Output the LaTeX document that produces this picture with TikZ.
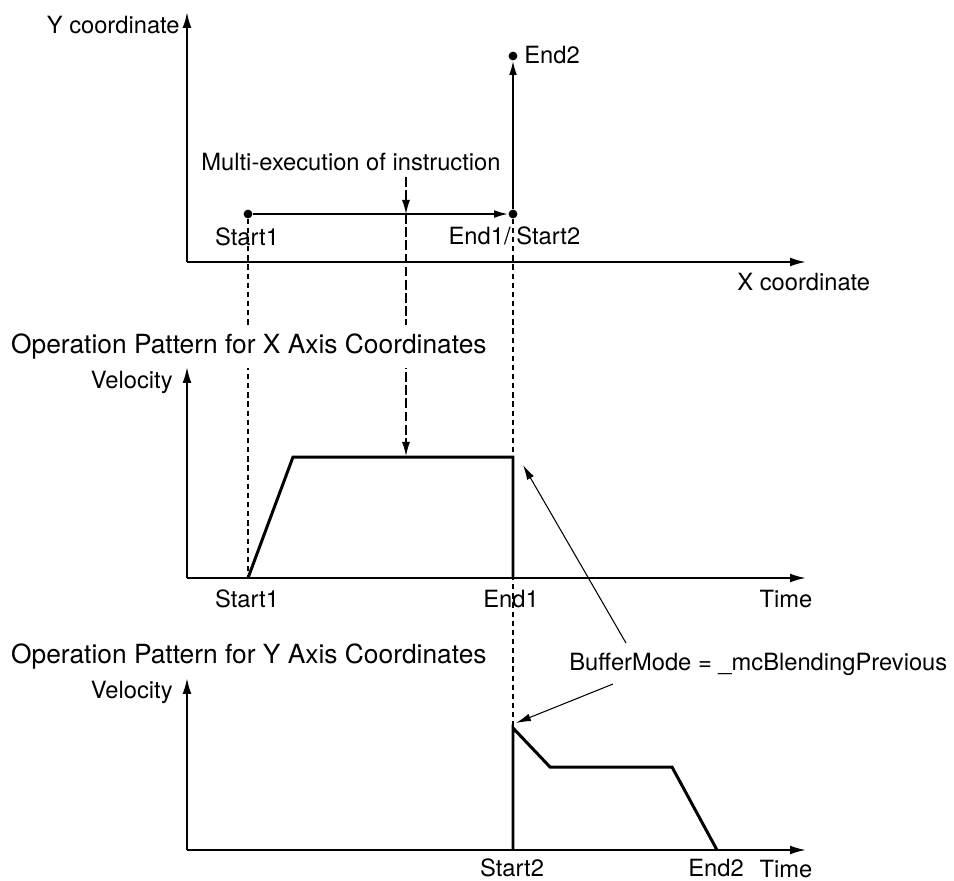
\documentclass[tikz,border=0pt]{standalone}
\usepackage{fontspec}
\setmainfont{TeX Gyre Heros}
\usetikzlibrary{arrows.meta,positioning}

\tikzset{
  axis/.style={line width=1.1pt,-{Latex[length=9pt,width=5pt]}},
  move/.style={line width=1.1pt,-{Latex[length=8pt,width=4.4pt]}},
  prof/.style={line width=1.7pt,line join=miter},
  guide/.style={line width=0.6pt,dash pattern=on 3pt off 2.2pt},
  multi/.style={line width=0.7pt,dash pattern=on 5.5pt off 2pt,-{Latex[length=8pt,width=4.6pt]}},
  note/.style={line width=0.6pt,-{Latex[length=8.5pt,width=4.4pt]}},
  dot/.style={circle,fill,inner sep=0pt,minimum size=5pt},
  lbl/.style={inner sep=0pt,anchor=base},
  title/.style={anchor=base west,fill=white,inner xsep=1pt,inner ysep=5pt,font=\fontsize{15}{18}\selectfont}
}

\begin{document}
\begin{tikzpicture}[x=0.02cm,y=-0.02cm,font=\fontsize{13.5}{16}\selectfont]
\useasboundingbox (0,0) rectangle (954,880);

% X-Y plane
\coordinate (o1) at (187,262);
\draw[axis] (o1) -- (187,12);
\draw[axis] (o1) -- (806,262);
\node[lbl,anchor=base east] (ylab) at (180,33) {Y coordinate};
\node[lbl,anchor=base west] (xlab) at (737,290) {X coordinate};

\node[dot] (s1) at (248,214) {};
\node[dot] (m) at (513,214) {};
\node[dot] (e2) at (513,56) {};
\draw[move] (s1) -- (m);
\draw[move] (m) -- (e2);
\node[lbl,anchor=base west] (e2lab) at (524,63) {End2};
\node[lbl] (s1lab) at (247,245) {Start1};
\node[lbl,anchor=base east] (e1lab) at (511,244) {End1/};
\node[lbl,anchor=base west] (s2lab) at (516,244) {Start2};
\node[lbl] (multi) at (351,170) {Multi-execution of instruction};

% multi-execution arrow
\coordinate (mt) at (406,177);
\coordinate (mh) at (406,214);
\coordinate (mb) at (406,456);
\draw[multi] (mt) -- (mh);
\draw[multi] (mh) -- (mb);

% guides
\coordinate (xa) at (248,578);
\coordinate (yb) at (513,728);
\draw[guide] (s1) -- (xa);
\draw[guide] (m) -- (yb);

% X axis velocity
\node[title] (xtitle) at (9,353) {Operation Pattern for X Axis Coordinates};
\node[lbl,anchor=base east] (xvel) at (173,388) {Velocity};
\coordinate (o2) at (187,578);
\draw[axis] (o2) -- (187,367);
\draw[axis] (o2) -- (806,578);
\coordinate (xb) at (293,457);
\coordinate (xc) at (513,457);
\coordinate (xd) at (513,578);
\draw[prof] (xa) -- (xb) -- (xc) -- (xd);
\node[lbl] (xs1) at (247,607) {Start1};
\node[lbl] (xe1) at (511,607) {End1};
\node[lbl] (xtime) at (786,607) {Time};

% Y axis velocity
\node[title] (ytitle) at (9,663) {Operation Pattern for Y Axis Coordinates};
\node[lbl,anchor=base east] (yvel) at (173,698) {Velocity};
\coordinate (o3) at (187,850);
\draw[axis] (o3) -- (187,678);
\draw[axis] (o3) -- (806,850);
\coordinate (ya) at (513,850);
\coordinate (yc) at (550,767);
\coordinate (yd) at (672,767);
\coordinate (ye) at (717,850);
\draw[prof] (ya) -- (yb) -- (yc) -- (yd) -- (ye);
\node[lbl] (ys2) at (512,876) {Start2};
\node[lbl] (ye2) at (716,876) {End2};
\node[lbl] (ytime) at (786,877) {Time};

% buffer mode
\node[lbl,anchor=base west] (buf) at (569,670) {BufferMode = \_mcBlendingPrevious};
\coordinate (b1) at (626,643);
\coordinate (b2) at (523,465);
\coordinate (b3) at (613,684);
\coordinate (b4) at (516,723);
\draw[note] (b1) -- (b2);
\draw[note] (b3) -- (b4);
\end{tikzpicture}
\end{document}
